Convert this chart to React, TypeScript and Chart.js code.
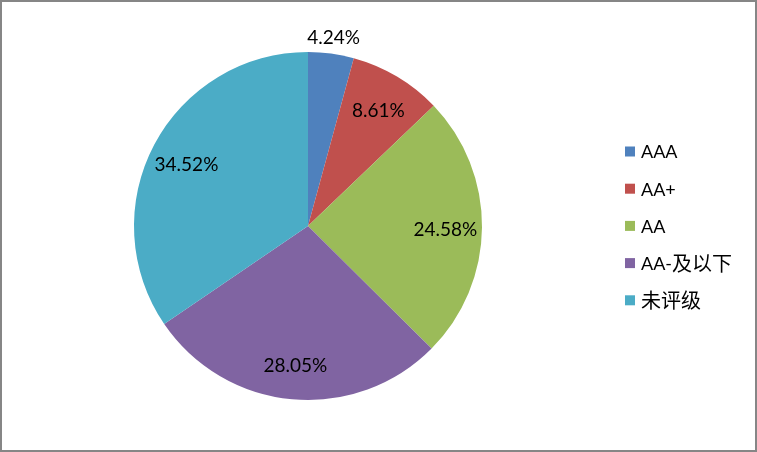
import React, { useEffect, useRef } from "react";
import { Chart, registerables } from "chart.js";

Chart.register(...registerables);

const categories: string[] = ["AAA", "AA+", "AA", "AA-及以下", "未评级"];
const values: number[] = [4.24, 8.61, 24.58, 28.05, 34.52];
const colors: string[] = ["#4F81BD", "#C0504D", "#9BBB59", "#8064A2", "#4BACC6"];

const LATIN = "Lato, 'Noto Sans', sans-serif";
const CJK = "'Noto Sans CJK SC', sans-serif";

const labelPlugin = {
  id: "sliceLabels",
  afterDatasetsDraw(chart: any) {
    const ctx = chart.ctx;
    const meta = chart.getDatasetMeta(0);
    const total = values.reduce((a, b) => a + b, 0);
    ctx.save();
    ctx.font = `19px ${LATIN}`;
    ctx.fillStyle = "#000000";
    ctx.textAlign = "center";
    ctx.textBaseline = "middle";
    meta.data.forEach((arc: any, i: number) => {
      const { x, y, startAngle, endAngle, outerRadius } = arc.getProps(
        ["x", "y", "startAngle", "endAngle", "outerRadius"],
        true
      );
      const mid = (startAngle + endAngle) / 2;
      const share = values[i] / total;
      const r = share < 0.05 ? outerRadius + 19 : outerRadius * 0.79;
      const lx = x + Math.cos(mid) * r;
      const ly = y + Math.sin(mid) * r + 3;
      ctx.fillText(values[i].toFixed(2) + "%", lx, ly);
    });
    ctx.restore();
  },
};

function drawMixed(ctx: any, text: string, x: number, y: number) {
  let cx = x;
  const parts = text.match(/[\u3000-\u9fff]+|[^\u3000-\u9fff]+/g) || [];
  parts.forEach((p) => {
    const isCjk = /[\u3000-\u9fff]/.test(p);
    ctx.font = isCjk ? `20px ${CJK}` : `18px ${LATIN}`;
    ctx.fillText(p, cx, y + (isCjk ? 0 : 1));
    cx += ctx.measureText(p).width;
  });
}

const legendPlugin = {
  id: "sideLegend",
  afterDraw(chart: any) {
    const ctx = chart.ctx;
    ctx.save();
    ctx.textBaseline = "middle";
    ctx.textAlign = "left";
    const x0 = 623;
    const y0 = 149.5;
    const step = 37.2;
    categories.forEach((c, i) => {
      const cy = y0 + i * step;
      ctx.fillStyle = colors[i];
      ctx.fillRect(x0, cy - 5, 10, 10);
      ctx.fillStyle = "#000000";
      drawMixed(ctx, c, x0 + 16, cy);
    });
    ctx.restore();
  },
};

export default function App() {
  const ref = useRef<HTMLCanvasElement | null>(null);
  useEffect(() => {
    if (!ref.current) return;
    const chart = new Chart(ref.current, {
      type: "pie",
      data: {
        labels: categories,
        datasets: [
          {
            data: values,
            backgroundColor: colors,
            borderWidth: 0,
          },
        ],
      },
      options: {
        animation: false,
        responsive: false,
        maintainAspectRatio: false,
        devicePixelRatio: 1,
        layout: { padding: { left: 132, right: 273, top: 50, bottom: 50 } },
        plugins: {
          legend: { display: false },
          tooltip: { enabled: false },
        },
      },
      plugins: [labelPlugin, legendPlugin],
    });
    return () => chart.destroy();
  }, []);
  return (
    <div
      style={{
        position: "fixed",
        left: 0,
        top: 0,
        width: 757,
        height: 452,
        boxSizing: "border-box",
        border: "2px solid #868686",
        background: "#ffffff",
      }}
    >
      <canvas ref={ref} width={753} height={448} style={{ display: "block", width: 753, height: 448 }} />
    </div>
  );
}
